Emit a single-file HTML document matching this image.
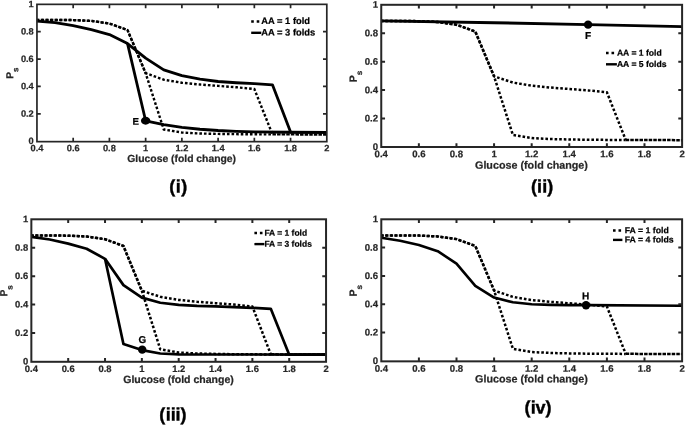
<!DOCTYPE html>
<html lang="en"><head><meta charset="utf-8"><title>Bifurcation plots</title>
<style>html,body{margin:0;padding:0;background:#fff}body{width:685px;height:425px;overflow:hidden}svg{display:block;will-change:transform;filter:grayscale(1)}text{font-family:"Liberation Sans", Arial, Helvetica, sans-serif;font-weight:bold;fill:#262626;stroke:#262626;stroke-width:.22px}</style></head><body>
<svg width="685" height="425" viewBox="0 0 685 425">
<rect width="685" height="425" fill="#fff"/>
<g>
<path d="M36.95 19.95 L55.07 19.95 L73.18 20.08 L91.3 20.9 L109.41 23.5 L127.53 30.07 L145.64 73.16 L163.76 79.73 L181.88 82.74 L199.99 84.51 L218.11 85.88 L236.22 87.25 L254.34 89.03 L272.45 134.31" fill="none" stroke="#000" stroke-width="2.4" stroke-dasharray="2.6 2.0" stroke-linejoin="round"/>
<path d="M36.95 19.95 L55.07 19.95 L73.18 20.08 L91.3 20.9 L109.41 23.5 L127.53 30.07 L145.64 73.16 L163.76 129.52 L181.88 132.53 L199.99 133.49 L218.11 133.9 L236.22 134.17 L254.34 134.31 L272.45 134.38" fill="none" stroke="#000" stroke-width="2.4" stroke-dasharray="2.6 2.0" stroke-dashoffset="0.85" stroke-linejoin="round"/>
<path d="M272.45 134.31 L326.8 134.58" fill="none" stroke="#000" stroke-width="2.4" stroke-dasharray="3.5 1.1"/>
<path d="M36.95 21.04 L55.07 22.68 L73.18 25.55 L91.3 29.66 L109.41 34.58 L127.53 43.61 L145.64 58.11 L163.76 69.88 L181.88 75.62 L199.99 79.18 L218.11 81.51 L236.22 82.74 L254.34 83.69 L272.45 84.79 L290.57 132.12 L326.8 132.39" fill="none" stroke="#000" stroke-width="2.8" stroke-linejoin="round"/>
<path d="M127.53 43.61 L145.64 120.77 L163.76 124.6 L181.88 127.47 L199.99 129.25 L218.11 130.48 L236.22 131.3 L254.34 131.85 L290.57 132.26 L326.8 132.39" fill="none" stroke="#000" stroke-width="2.8" stroke-linejoin="round"/>
<rect x="36.95" y="4.35" width="289.85" height="137.3" fill="none" stroke="#262626" stroke-width="1.7"/>
<path d="M73.18 141.65 v-3.8 M73.18 4.35 v3.8 M109.41 141.65 v-3.8 M109.41 4.35 v3.8 M145.64 141.65 v-3.8 M145.64 4.35 v3.8 M181.88 141.65 v-3.8 M181.88 4.35 v3.8 M218.11 141.65 v-3.8 M218.11 4.35 v3.8 M254.34 141.65 v-3.8 M254.34 4.35 v3.8 M290.57 141.65 v-3.8 M290.57 4.35 v3.8 M36.95 113.79 h3.8 M326.8 113.79 h-3.8 M36.95 86.43 h3.8 M326.8 86.43 h-3.8 M36.95 59.07 h3.8 M326.8 59.07 h-3.8 M36.95 31.71 h3.8 M326.8 31.71 h-3.8" fill="none" stroke="#262626" stroke-width="1.7"/>
<text x="36.95" y="151.25" font-size="9.26" text-anchor="middle" transform="rotate(0.03 36.95 151.25)">0.4</text>
<text x="73.18" y="151.25" font-size="9.26" text-anchor="middle" transform="rotate(0.03 73.18 151.25)">0.6</text>
<text x="109.41" y="151.25" font-size="9.26" text-anchor="middle" transform="rotate(0.03 109.41 151.25)">0.8</text>
<text x="145.64" y="151.25" font-size="9.26" text-anchor="middle" transform="rotate(0.03 145.64 151.25)">1</text>
<text x="181.88" y="151.25" font-size="9.26" text-anchor="middle" transform="rotate(0.03 181.88 151.25)">1.2</text>
<text x="218.11" y="151.25" font-size="9.26" text-anchor="middle" transform="rotate(0.03 218.11 151.25)">1.4</text>
<text x="254.34" y="151.25" font-size="9.26" text-anchor="middle" transform="rotate(0.03 254.34 151.25)">1.6</text>
<text x="290.57" y="151.25" font-size="9.26" text-anchor="middle" transform="rotate(0.03 290.57 151.25)">1.8</text>
<text x="326.8" y="151.25" font-size="9.26" text-anchor="middle" transform="rotate(0.03 326.8 151.25)">2</text>
<text x="33.75" y="144.06" font-size="9.26" text-anchor="end" transform="rotate(0.03 33.75 144.06)">0</text>
<text x="33.75" y="116.7" font-size="9.26" text-anchor="end" transform="rotate(0.03 33.75 116.7)">0.2</text>
<text x="33.75" y="89.34" font-size="9.26" text-anchor="end" transform="rotate(0.03 33.75 89.34)">0.4</text>
<text x="33.75" y="61.98" font-size="9.26" text-anchor="end" transform="rotate(0.03 33.75 61.98)">0.6</text>
<text x="33.75" y="34.62" font-size="9.26" text-anchor="end" transform="rotate(0.03 33.75 34.62)">0.8</text>
<text x="33.75" y="7.26" font-size="9.26" text-anchor="end" transform="rotate(0.03 33.75 7.26)">1</text>
<ellipse cx="145.64" cy="120.77" rx="4.7" ry="3.9" fill="#000"/>
<text x="135.74" y="124.67" font-size="9.72" text-anchor="middle" transform="rotate(0.03 135.74 124.67)" style="fill:#000;stroke:#000">E</text>
<path d="M251.2 21.5 H259.7" stroke="#000" stroke-width="2.4" stroke-dasharray="2.6 2.9" fill="none"/>
<path d="M251.2 32.8 H261.3" stroke="#000" stroke-width="2.4" fill="none"/>
<text x="261.3" y="24.1" font-size="9.36" transform="rotate(0.03 261.3 24.1)" style="fill:#000;stroke:#000">AA = 1 fold</text>
<text x="261.3" y="35.5" font-size="9.36" transform="rotate(0.03 261.3 35.5)" style="fill:#000;stroke:#000">AA = 3 folds</text>
<text x="181.68" y="162" font-size="10.37" text-anchor="middle" transform="rotate(0.03 181.68 162)">Glucose (fold change)</text>
<text transform="translate(13.23 78.82) rotate(-89.97)" font-size="10.1"><tspan x="0" y="0">P</tspan><tspan x="6.75" y="5.11" font-size="7.91">s</tspan></text>
<text x="169.23 175.65 181.22" y="192.6" font-size="18" style="fill:#000;stroke:#000;stroke-width:.4px" transform="rotate(0.03 169.23 192.6)">(i)</text>
</g>
<g>
<path d="M381.25 21.01 L400.05 21.01 L418.86 21.15 L437.66 22.01 L456.46 24.71 L475.27 31.53 L494.07 76.33 L512.87 82.58 L531.67 85.71 L550.48 87.56 L569.28 88.98 L588.08 90.4 L606.89 92.25 L625.69 139.89" fill="none" stroke="#000" stroke-width="2.5" stroke-dasharray="2.6 2.0" stroke-linejoin="round"/>
<path d="M381.25 21.01 L400.05 21.01 L418.86 21.15 L437.66 22.01 L456.46 24.71 L475.27 31.53 L494.07 76.33 L512.87 134.91 L531.67 138.04 L550.48 139.04 L569.28 139.46 L588.08 139.75 L606.89 139.89 L625.69 139.96" fill="none" stroke="#000" stroke-width="2.5" stroke-dasharray="2.6 2.0" stroke-dashoffset="0.85" stroke-linejoin="round"/>
<path d="M625.69 139.89 L682.1 140.17" fill="none" stroke="#000" stroke-width="2.5" stroke-dasharray="3.5 1.1"/>
<path d="M381.25 20.87 L494.07 22.72 L588.08 24.57 L682.1 26.56" fill="none" stroke="#000" stroke-width="2.85" stroke-linejoin="round"/>
<rect x="381.25" y="4.8" width="300.85" height="142.2" fill="none" stroke="#262626" stroke-width="2.0"/>
<path d="M418.86 147 v-3.8 M418.86 4.8 v3.8 M456.46 147 v-3.8 M456.46 4.8 v3.8 M494.07 147 v-3.8 M494.07 4.8 v3.8 M531.68 147 v-3.8 M531.68 4.8 v3.8 M569.28 147 v-3.8 M569.28 4.8 v3.8 M606.89 147 v-3.8 M606.89 4.8 v3.8 M644.49 147 v-3.8 M644.49 4.8 v3.8 M381.25 118.56 h3.8 M682.1 118.56 h-3.8 M381.25 90.12 h3.8 M682.1 90.12 h-3.8 M381.25 61.68 h3.8 M682.1 61.68 h-3.8 M381.25 33.24 h3.8 M682.1 33.24 h-3.8" fill="none" stroke="#262626" stroke-width="2.0"/>
<text x="381.25" y="157.3" font-size="9.61" text-anchor="middle" transform="rotate(0.03 381.25 157.3)">0.4</text>
<text x="418.86" y="157.3" font-size="9.61" text-anchor="middle" transform="rotate(0.03 418.86 157.3)">0.6</text>
<text x="456.46" y="157.3" font-size="9.61" text-anchor="middle" transform="rotate(0.03 456.46 157.3)">0.8</text>
<text x="494.07" y="157.3" font-size="9.61" text-anchor="middle" transform="rotate(0.03 494.07 157.3)">1</text>
<text x="531.68" y="157.3" font-size="9.61" text-anchor="middle" transform="rotate(0.03 531.68 157.3)">1.2</text>
<text x="569.28" y="157.3" font-size="9.61" text-anchor="middle" transform="rotate(0.03 569.28 157.3)">1.4</text>
<text x="606.89" y="157.3" font-size="9.61" text-anchor="middle" transform="rotate(0.03 606.89 157.3)">1.6</text>
<text x="644.49" y="157.3" font-size="9.61" text-anchor="middle" transform="rotate(0.03 644.49 157.3)">1.8</text>
<text x="682.1" y="157.3" font-size="9.61" text-anchor="middle" transform="rotate(0.03 682.1 157.3)">2</text>
<text x="378.05" y="150.04" font-size="9.61" text-anchor="end" transform="rotate(0.03 378.05 150.04)">0</text>
<text x="378.05" y="121.6" font-size="9.61" text-anchor="end" transform="rotate(0.03 378.05 121.6)">0.2</text>
<text x="378.05" y="93.16" font-size="9.61" text-anchor="end" transform="rotate(0.03 378.05 93.16)">0.4</text>
<text x="378.05" y="64.72" font-size="9.61" text-anchor="end" transform="rotate(0.03 378.05 64.72)">0.6</text>
<text x="378.05" y="36.28" font-size="9.61" text-anchor="end" transform="rotate(0.03 378.05 36.28)">0.8</text>
<text x="378.05" y="7.84" font-size="9.61" text-anchor="end" transform="rotate(0.03 378.05 7.84)">1</text>
<ellipse cx="588.08" cy="24.64" rx="4.2" ry="4.2" fill="#000"/>
<text x="588.08" y="38.94" font-size="10.09" text-anchor="middle" transform="rotate(0.03 588.08 38.94)" style="fill:#000;stroke:#000">F</text>
<path d="M606 53.1 H614.5" stroke="#000" stroke-width="2.5" stroke-dasharray="2.6 2.9" fill="none"/>
<path d="M606 64.3 H616.9" stroke="#000" stroke-width="2.4" fill="none"/>
<text x="616.9" y="55.7" font-size="8.62" transform="rotate(0.03 616.9 55.7)" style="fill:#000;stroke:#000">AA = 1 fold</text>
<text x="616.9" y="67" font-size="8.62" transform="rotate(0.03 616.9 67)" style="fill:#000;stroke:#000">AA = 5 folds</text>
<text x="531.47" y="168.7" font-size="10.76" text-anchor="middle" transform="rotate(0.03 531.47 168.7)">Glucose (fold change)</text>
<text transform="translate(356.63 82.21) rotate(-89.97)" font-size="10.48"><tspan x="0" y="0">P</tspan><tspan x="7.01" y="5.3" font-size="8.21">s</tspan></text>
<text x="531 537.07 542.32 547.35" y="192.5" font-size="18" style="fill:#000;stroke:#000;stroke-width:.4px" transform="rotate(0.03 531 192.5)">(ii)</text>
</g>
<g>
<path d="M31.35 235.51 L49.77 235.51 L68.19 235.65 L86.61 236.5 L105.03 239.2 L123.44 246.02 L141.86 290.8 L160.28 296.77 L178.7 299.9 L197.12 301.75 L215.54 303.17 L233.96 304.59 L252.38 306.44 L270.79 354.34" fill="none" stroke="#000" stroke-width="2.5" stroke-dasharray="2.6 2.0" stroke-linejoin="round"/>
<path d="M31.35 235.51 L49.77 235.51 L68.19 235.65 L86.61 236.5 L105.03 239.2 L123.44 246.02 L141.86 290.8 L160.28 349.37 L178.7 352.49 L197.12 353.49 L215.54 353.92 L233.96 354.2 L252.38 354.34 L270.79 354.41" fill="none" stroke="#000" stroke-width="2.5" stroke-dasharray="2.6 2.0" stroke-dashoffset="0.85" stroke-linejoin="round"/>
<path d="M270.79 354.34 L326.05 354.63" fill="none" stroke="#000" stroke-width="2.5" stroke-dasharray="3.5 1.1"/>
<path d="M31.35 236.93 L49.77 239.49 L68.19 243.61 L86.61 248.8 L105.03 258.82 L123.44 285.12 L141.86 297.62 L160.28 302.74 L178.7 304.87 L197.12 305.87 L215.54 306.44 L233.96 307.15 L252.38 307.86 L270.79 308.85 L289.21 354.63 L326.05 354.63" fill="none" stroke="#000" stroke-width="2.7" stroke-linejoin="round"/>
<path d="M105.03 258.82 L123.44 343.97 L141.86 350.08 L160.28 353.49 L178.7 354.34 L252.38 354.48 L326.05 354.63" fill="none" stroke="#000" stroke-width="2.7" stroke-linejoin="round"/>
<rect x="31.35" y="219.3" width="294.7" height="142.5" fill="none" stroke="#262626" stroke-width="2.0"/>
<path d="M68.19 361.8 v-3.8 M68.19 219.3 v3.8 M105.03 361.8 v-3.8 M105.03 219.3 v3.8 M141.86 361.8 v-3.8 M141.86 219.3 v3.8 M178.7 361.8 v-3.8 M178.7 219.3 v3.8 M215.54 361.8 v-3.8 M215.54 219.3 v3.8 M252.38 361.8 v-3.8 M252.38 219.3 v3.8 M289.21 361.8 v-3.8 M289.21 219.3 v3.8 M31.35 333.02 h3.8 M326.05 333.02 h-3.8 M31.35 304.59 h3.8 M326.05 304.59 h-3.8 M31.35 276.16 h3.8 M326.05 276.16 h-3.8 M31.35 247.73 h3.8 M326.05 247.73 h-3.8" fill="none" stroke="#262626" stroke-width="2.0"/>
<text x="31.35" y="371.95" font-size="9.41" text-anchor="middle" transform="rotate(0.03 31.35 371.95)">0.4</text>
<text x="68.19" y="371.95" font-size="9.41" text-anchor="middle" transform="rotate(0.03 68.19 371.95)">0.6</text>
<text x="105.03" y="371.95" font-size="9.41" text-anchor="middle" transform="rotate(0.03 105.03 371.95)">0.8</text>
<text x="141.86" y="371.95" font-size="9.41" text-anchor="middle" transform="rotate(0.03 141.86 371.95)">1</text>
<text x="178.7" y="371.95" font-size="9.41" text-anchor="middle" transform="rotate(0.03 178.7 371.95)">1.2</text>
<text x="215.54" y="371.95" font-size="9.41" text-anchor="middle" transform="rotate(0.03 215.54 371.95)">1.4</text>
<text x="252.38" y="371.95" font-size="9.41" text-anchor="middle" transform="rotate(0.03 252.38 371.95)">1.6</text>
<text x="289.21" y="371.95" font-size="9.41" text-anchor="middle" transform="rotate(0.03 289.21 371.95)">1.8</text>
<text x="326.05" y="371.95" font-size="9.41" text-anchor="middle" transform="rotate(0.03 326.05 371.95)">2</text>
<text x="28.15" y="364.42" font-size="9.41" text-anchor="end" transform="rotate(0.03 28.15 364.42)">0</text>
<text x="28.15" y="335.99" font-size="9.41" text-anchor="end" transform="rotate(0.03 28.15 335.99)">0.2</text>
<text x="28.15" y="307.56" font-size="9.41" text-anchor="end" transform="rotate(0.03 28.15 307.56)">0.4</text>
<text x="28.15" y="279.13" font-size="9.41" text-anchor="end" transform="rotate(0.03 28.15 279.13)">0.6</text>
<text x="28.15" y="250.7" font-size="9.41" text-anchor="end" transform="rotate(0.03 28.15 250.7)">0.8</text>
<text x="28.15" y="222.27" font-size="9.41" text-anchor="end" transform="rotate(0.03 28.15 222.27)">1</text>
<ellipse cx="142.23" cy="349.65" rx="4.2" ry="4.2" fill="#000"/>
<text x="142.43" y="343.05" font-size="9.88" text-anchor="middle" transform="rotate(0.03 142.43 343.05)" style="fill:#000;stroke:#000">G</text>
<path d="M254.4 233.1 H262.9" stroke="#000" stroke-width="2.5" stroke-dasharray="2.6 2.9" fill="none"/>
<path d="M254.4 244.1 H264.4" stroke="#000" stroke-width="2.4" fill="none"/>
<text x="264.4" y="235.7" font-size="8.47" transform="rotate(0.03 264.4 235.7)" style="fill:#000;stroke:#000">FA = 1 fold</text>
<text x="264.4" y="246.8" font-size="8.47" transform="rotate(0.03 264.4 246.8)" style="fill:#000;stroke:#000">FA = 3 folds</text>
<text x="178.5" y="383" font-size="10.54" text-anchor="middle" transform="rotate(0.03 178.5 383)">Glucose (fold change)</text>
<text transform="translate(7.23 296.55) rotate(-89.97)" font-size="10.26"><tspan x="0" y="0">P</tspan><tspan x="6.86" y="5.2" font-size="8.04">s</tspan></text>
<text x="159.24 165.72 170.65 175.62 180.6" y="420.6" font-size="18" style="fill:#000;stroke:#000;stroke-width:.4px" transform="rotate(0.03 159.24 420.6)">(iii)</text>
</g>
<g>
<path d="M381.3 235.44 L400.1 235.44 L418.9 235.58 L437.7 236.43 L456.5 239.12 L475.3 245.92 L494.1 290.52 L512.9 296.9 L531.7 300.01 L550.5 301.85 L569.3 303.27 L588.1 304.68 L606.9 306.53 L625.7 353.82" fill="none" stroke="#000" stroke-width="2.5" stroke-dasharray="2.6 2.0" stroke-linejoin="round"/>
<path d="M381.3 235.44 L400.1 235.44 L418.9 235.58 L437.7 236.43 L456.5 239.12 L475.3 245.92 L494.1 290.52 L512.9 348.86 L531.7 351.98 L550.5 352.97 L569.3 353.4 L588.1 353.68 L606.9 353.82 L625.7 353.89" fill="none" stroke="#000" stroke-width="2.5" stroke-dasharray="2.6 2.0" stroke-dashoffset="0.85" stroke-linejoin="round"/>
<path d="M625.7 353.82 L682.1 354.1" fill="none" stroke="#000" stroke-width="2.5" stroke-dasharray="3.5 1.1"/>
<path d="M381.3 237.71 L400.1 240.82 L418.9 244.93 L437.7 251.16 L456.5 263.62 L475.3 285.85 L494.1 297.6 L512.9 302.28 L531.7 304.26 L550.5 304.83 L569.3 305.11 L588.1 305.11 L682.1 305.68" fill="none" stroke="#000" stroke-width="2.6" stroke-linejoin="round"/>
<rect x="381.3" y="219.3" width="300.8" height="142.05" fill="none" stroke="#262626" stroke-width="2.0"/>
<path d="M418.9 361.35 v-3.8 M418.9 219.3 v3.8 M456.5 361.35 v-3.8 M456.5 219.3 v3.8 M494.1 361.35 v-3.8 M494.1 219.3 v3.8 M531.7 361.35 v-3.8 M531.7 219.3 v3.8 M569.3 361.35 v-3.8 M569.3 219.3 v3.8 M606.9 361.35 v-3.8 M606.9 219.3 v3.8 M644.5 361.35 v-3.8 M644.5 219.3 v3.8 M381.3 332.58 h3.8 M682.1 332.58 h-3.8 M381.3 304.26 h3.8 M682.1 304.26 h-3.8 M381.3 275.94 h3.8 M682.1 275.94 h-3.8 M381.3 247.62 h3.8 M682.1 247.62 h-3.8" fill="none" stroke="#262626" stroke-width="2.0"/>
<text x="381.3" y="371.65" font-size="9.61" text-anchor="middle" transform="rotate(0.03 381.3 371.65)">0.4</text>
<text x="418.9" y="371.65" font-size="9.61" text-anchor="middle" transform="rotate(0.03 418.9 371.65)">0.6</text>
<text x="456.5" y="371.65" font-size="9.61" text-anchor="middle" transform="rotate(0.03 456.5 371.65)">0.8</text>
<text x="494.1" y="371.65" font-size="9.61" text-anchor="middle" transform="rotate(0.03 494.1 371.65)">1</text>
<text x="531.7" y="371.65" font-size="9.61" text-anchor="middle" transform="rotate(0.03 531.7 371.65)">1.2</text>
<text x="569.3" y="371.65" font-size="9.61" text-anchor="middle" transform="rotate(0.03 569.3 371.65)">1.4</text>
<text x="606.9" y="371.65" font-size="9.61" text-anchor="middle" transform="rotate(0.03 606.9 371.65)">1.6</text>
<text x="644.5" y="371.65" font-size="9.61" text-anchor="middle" transform="rotate(0.03 644.5 371.65)">1.8</text>
<text x="682.1" y="371.65" font-size="9.61" text-anchor="middle" transform="rotate(0.03 682.1 371.65)">2</text>
<text x="378.1" y="363.94" font-size="9.61" text-anchor="end" transform="rotate(0.03 378.1 363.94)">0</text>
<text x="378.1" y="335.62" font-size="9.61" text-anchor="end" transform="rotate(0.03 378.1 335.62)">0.2</text>
<text x="378.1" y="307.3" font-size="9.61" text-anchor="end" transform="rotate(0.03 378.1 307.3)">0.4</text>
<text x="378.1" y="278.98" font-size="9.61" text-anchor="end" transform="rotate(0.03 378.1 278.98)">0.6</text>
<text x="378.1" y="250.66" font-size="9.61" text-anchor="end" transform="rotate(0.03 378.1 250.66)">0.8</text>
<text x="378.1" y="222.34" font-size="9.61" text-anchor="end" transform="rotate(0.03 378.1 222.34)">1</text>
<ellipse cx="586.03" cy="305.18" rx="4.2" ry="4.2" fill="#000"/>
<text x="585.63" y="299.48" font-size="10.09" text-anchor="middle" transform="rotate(0.03 585.63 299.48)" style="fill:#000;stroke:#000">H</text>
<path d="M613 230.6 H621.5" stroke="#000" stroke-width="2.5" stroke-dasharray="2.6 2.9" fill="none"/>
<path d="M613 239.9 H622.4" stroke="#000" stroke-width="2.4" fill="none"/>
<text x="624.7" y="233.2" font-size="8.75" transform="rotate(0.03 624.7 233.2)" style="fill:#000;stroke:#000">FA = 1 fold</text>
<text x="624.7" y="242.6" font-size="8.75" transform="rotate(0.03 624.7 242.6)" style="fill:#000;stroke:#000">FA = 4 folds</text>
<text x="531.5" y="382.6" font-size="10.76" text-anchor="middle" transform="rotate(0.03 531.5 382.6)">Glucose (fold change)</text>
<text transform="translate(356.68 296.4) rotate(-89.97)" font-size="10.48"><tspan x="0" y="0">P</tspan><tspan x="7" y="5.3" font-size="8.21">s</tspan></text>
<text x="524.4 530.85 535.4 545.6" y="413.5" font-size="18" style="fill:#000;stroke:#000;stroke-width:.4px" transform="rotate(0.03 524.4 413.5)">(iv)</text>
</g>
</svg></body></html>
